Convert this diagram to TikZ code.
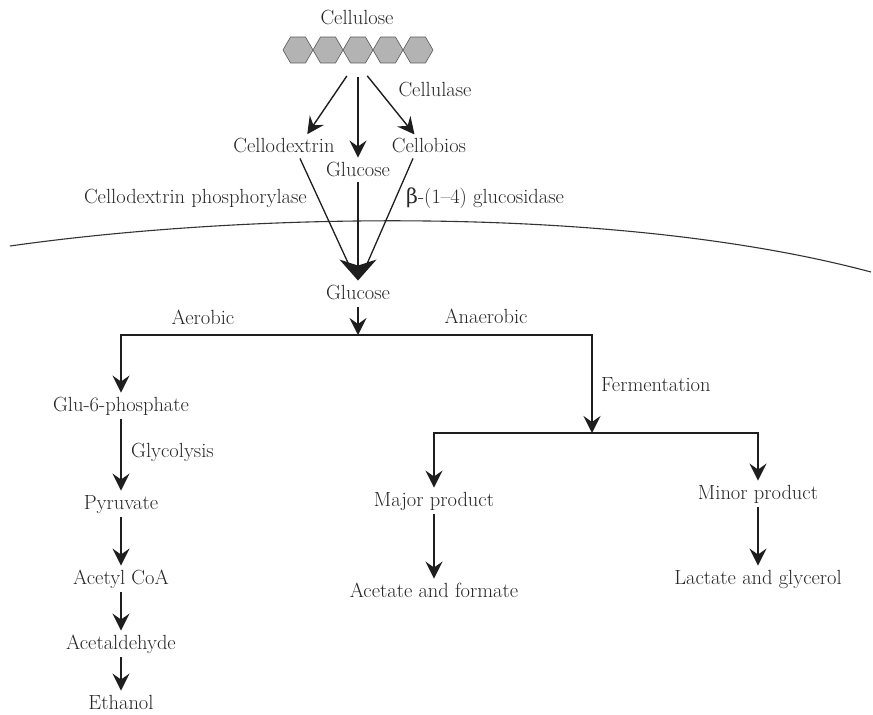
\documentclass[tikz,border=0pt]{standalone}
\usepackage{fontspec}
\usepackage{tikz}
\usetikzlibrary{arrows.meta, shapes.geometric}
\newfontfamily\grk{DejaVu Serif}
\definecolor{txt}{HTML}{262626}
\definecolor{ln}{HTML}{1E1E1E}
\definecolor{hexfill}{HTML}{B3B3B3}

\begin{document}
\begin{tikzpicture}[
  x=1pt, y=-1pt,
  lbl/.style={text=txt, font=\fontsize{20.5}{24}\selectfont, inner sep=1pt,
              text height=14pt, text depth=4.5pt},
  hexa/.style={regular polygon, regular polygon sides=6, minimum size=30pt,
               inner sep=0pt, fill=hexfill, draw=gray!70!black, line width=0.6pt},
  arr/.style={-{Stealth[length=17pt, width=17pt, inset=6pt]}, draw=ln,
              line width=1.6pt, shorten >=4pt, shorten <=2pt},
  thinarr/.style={arr, line width=1.4pt},
  bigarr/.style={-{Stealth[length=21pt, width=37pt, inset=6pt]}, draw=ln,
                 line width=1.3pt, shorten >=4pt},
  feed/.style={draw=ln, line width=1.3pt, shorten >=12pt},
  membrane/.style={draw=gray!40!black, line width=1.1pt}
]
  \useasboundingbox (0,0) rectangle (873,715);

  %--- Cellulose chain ---
  \node[lbl] (cellulose) at (357, 20) {Cellulose};
  \foreach \i in {1,...,5}
    \node[hexa] (h\i) at (268+30*\i, 50) {};

  %--- Cellulase products ---
  \node[lbl] (cellulase) at (435, 92) {Cellulase};
  \node[lbl] (cdex) at (284, 148) {Cellodextrin};
  \node[lbl] (glcA) at (358, 172) {Glucose};
  \node[lbl] (cbio) at (429, 148) {Cellobios};
  \node[lbl, anchor=east] (cdp) at (308, 199) {Cellodextrin phosphorylase};
  \node[lbl, anchor=west] (bgl) at (405, 199) {{\grk β}-(1--4) glucosidase};

  \draw[thinarr] ([xshift=-10pt, yshift=-11pt]h3.south) -- ([xshift=21pt]cdex.north);
  \draw[thinarr] ([yshift=-12pt]h3.south) -- (glcA.north);
  \draw[thinarr] ([xshift=8pt, yshift=-11pt]h3.south) -- ([xshift=-12pt]cbio.north);

  % Cell membrane
  \draw[membrane] (10,246) .. controls (250,212) and (620,205) .. (871,272);

  %--- Uptake ---
  \node[lbl] (glcB) at (358, 295) {Glucose};
  \draw[feed] ([xshift=16pt]cdex.south) -- (glcB.north);
  \draw[feed] ([xshift=-16pt]cbio.south) -- (glcB.north);
  \draw[bigarr] (glcA.south) -- (glcB.north);

  %--- Aerobic / anaerobic split ---
  \coordinate (split) at (358, 335);
  \coordinate (ferm) at (592, 433);
  \node[lbl] (aer) at (203, 320) {Aerobic};
  \node[lbl] (anaer) at (486, 319) {Anaerobic};
  \node[lbl, anchor=west] (fermlbl) at (600, 387) {Fermentation};
  \draw[arr, shorten >=0pt] (glcB.south) -- (split);

  %--- Aerobic branch ---
  \node[lbl] (g6p) at (121, 407) {Glu-6-phosphate};
  \node[lbl, anchor=west] (glyc) at (130, 453) {Glycolysis};
  \node[lbl] (pyr) at (121, 505) {Pyruvate};
  \node[lbl] (acoa) at (121, 580) {Acetyl CoA};
  \node[lbl] (ald) at (121, 645) {Acetaldehyde};
  \node[lbl] (eth) at (121, 705) {Ethanol};

  \draw[arr, shorten <=0pt] (split) -| (g6p);
  \draw[arr] (g6p) -- (pyr);
  \draw[arr] (pyr) -- (acoa);
  \draw[arr] (acoa) -- (ald);
  \draw[arr] (ald) -- (eth);

  %--- Anaerobic branch ---
  \node[lbl] (major) at (434, 502) {Major product};
  \node[lbl] (minor) at (758, 495) {Minor product};
  \node[lbl] (acfo) at (434, 593) {Acetate and formate};
  \node[lbl] (lagl) at (758, 580) {Lactate and glycerol};

  \draw[arr, shorten <=0pt, shorten >=0pt] (split) -| (ferm);
  \draw[arr, shorten <=0pt] (ferm) -| (major);
  \draw[arr, shorten <=0pt] (ferm) -| (minor);
  \draw[arr] (major) -- (acfo);
  \draw[arr] (minor) -- (lagl);
\end{tikzpicture}
\end{document}
